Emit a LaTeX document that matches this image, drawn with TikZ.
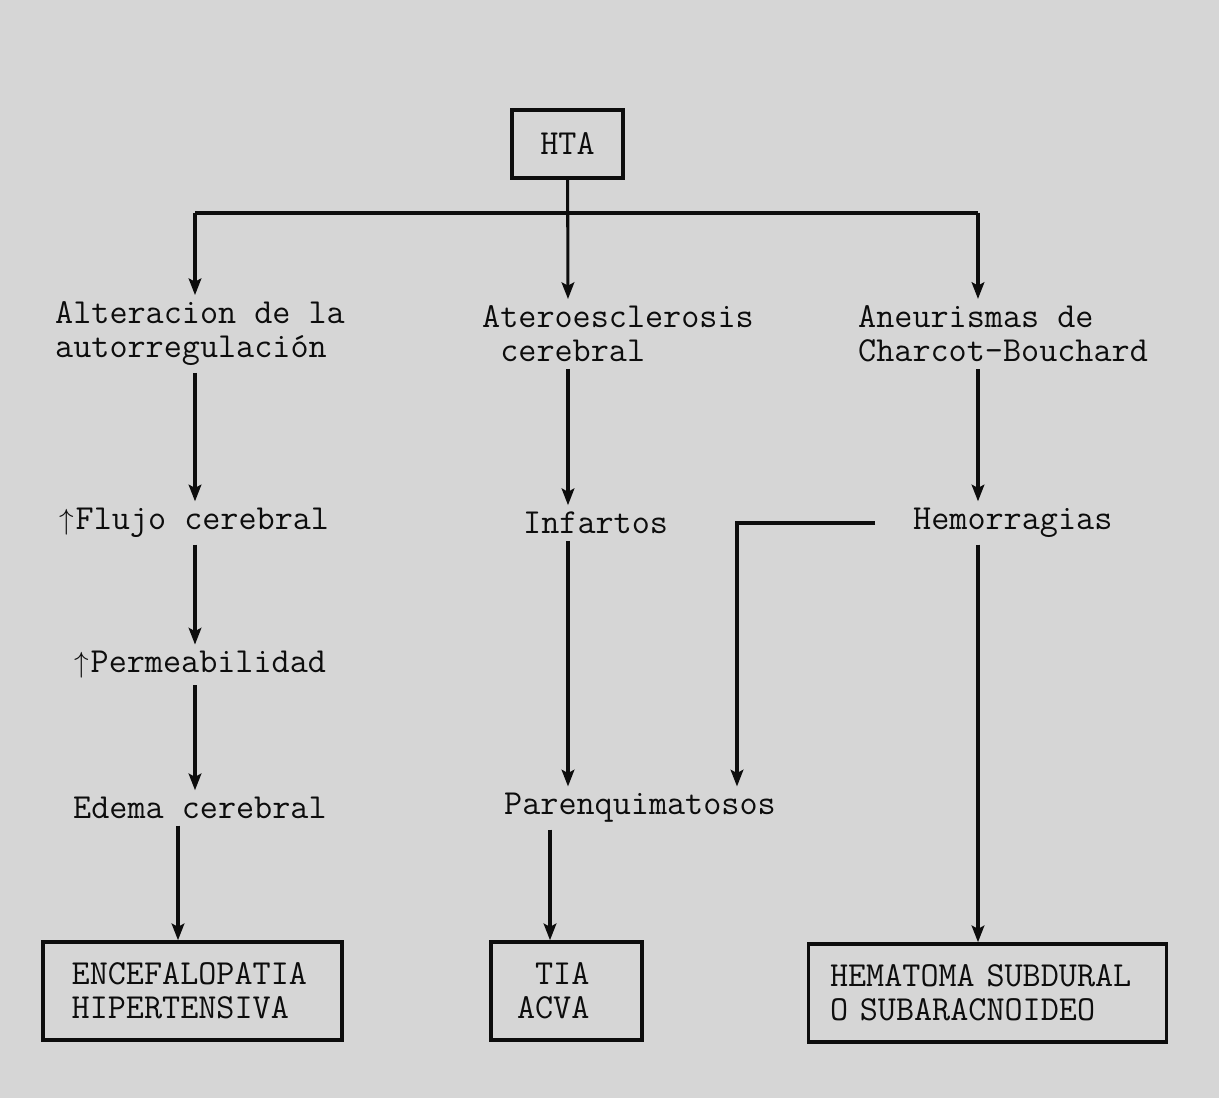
\documentclass[tikz,border=0pt]{standalone}
\usetikzlibrary{arrows.meta, positioning}
\definecolor{inkBlack}{gray}{0.05}
\definecolor{paperGray}{gray}{0.84}

\begin{document}
\begin{tikzpicture}[x=0.03cm, y=-0.03cm, >={Stealth[length=0.5cm, width=0.38cm, inset=0.1cm]},
    every node/.style={font=\ttfamily\fontsize{30}{29}\selectfont, text=inkBlack},
    lbl/.style={anchor=west, align=left, inner xsep=0pt, inner ysep=0.2cm},
    box/.style={draw=inkBlack, line width=3pt, align=left, inner ysep=0pt, minimum height=2.94cm},
    link/.style={draw=inkBlack, line width=2.6pt}]
    \useasboundingbox (0,0) rectangle (1219,1098);
    \fill[paperGray] (0,0) rectangle (1219,1098);

    \coordinate (colL) at (195,213);
    \coordinate (colM) at (568,213);
    \coordinate (colR) at (978,213);
    \coordinate (dropL) at (178,0); % drop to the left box
    \coordinate (dropM) at (550,0); % drop to the middle box
    \coordinate (bend) at (737,0);  % Hemorragias -> Parenquimatosos

    % Top box
    \node[box, align=center, minimum width=3.33cm, minimum height=2.04cm] (hta) at (567.5,144) {HTA};

    % Labels
    \node[lbl] (alt) at (55,334) {Alteracion de la\\autorregulación};
    \node[lbl] (ate) at (482,334) {Ateroesclerosis\\\hphantom{A}cerebral};
    \node[lbl] (ane) at (858,334) {Aneurismas de\\Charcot-Bouchard};
    \node[lbl] (flu) at (57,523) {\makebox[0.525em]{$\uparrow$}Flujo cerebral};
    \node[lbl] (inf) at (523,523) {Infartos};
    \node[lbl] (hem) at (913,523) {Hemorragias};
    \node[lbl] (per) at (72,665) {\makebox[0.525em]{$\uparrow$}Permeabilidad};
    \node[lbl] (ede) at (73,808) {Edema cerebral};
    \node[lbl] (par) at (504,808) {Parenquimatosos};

    % Result boxes
    \node[box, text width=7.25cm, inner xsep=0.86cm] (enc) at (192.5,991) {ENCEFALOPATIA\\HIPERTENSIVA};
    \node[box, text width=2.97cm, inner xsep=0.78cm] (tia) at (566.5,991) {\hphantom{A}TIA\\ACVA};
    \node[box, text width=9.45cm, inner xsep=0.65cm] (hsa) at (987.5,993) {HEMATOMA SUBDURAL\\O SUBARACNOIDEO};

    % Split under HTA
    \draw[link] (colL) -- (colR);
    \draw[link, ->] (hta) -- (ate.north -| colM);
    \draw[link, ->] (colL) -- (alt.north -| colL);
    \draw[link, ->] (colR) -- (ane.north -| colR);

    % Left column
    \draw[link, ->] (alt.south -| colL) -- (flu.north -| colL);
    \draw[link, ->] (flu.south -| colL) -- (per.north -| colL);
    \draw[link, ->] (per.south -| colL) -- (ede.north -| colL);
    \draw[link, ->] (ede.south -| dropL) -- (enc.north -| dropL);

    % Middle column
    \draw[link, ->] (ate.south -| colM) -- (inf.north -| colM);
    \draw[link, ->] (inf.south -| colM) -- (par.north -| colM);
    \draw[link, ->] (par.south -| dropM) -- (tia.north -| dropM);

    % Right column
    \draw[link, ->] (ane.south -| colR) -- (hem.north -| colR);
    \draw[link, ->] (hem.south -| colR) -- (hsa.north -| colR);
    \draw[link, ->, shorten <=1.14cm] (hem.west) -- (hem.west -| bend) -- (par.north -| bend);
\end{tikzpicture}
\end{document}
